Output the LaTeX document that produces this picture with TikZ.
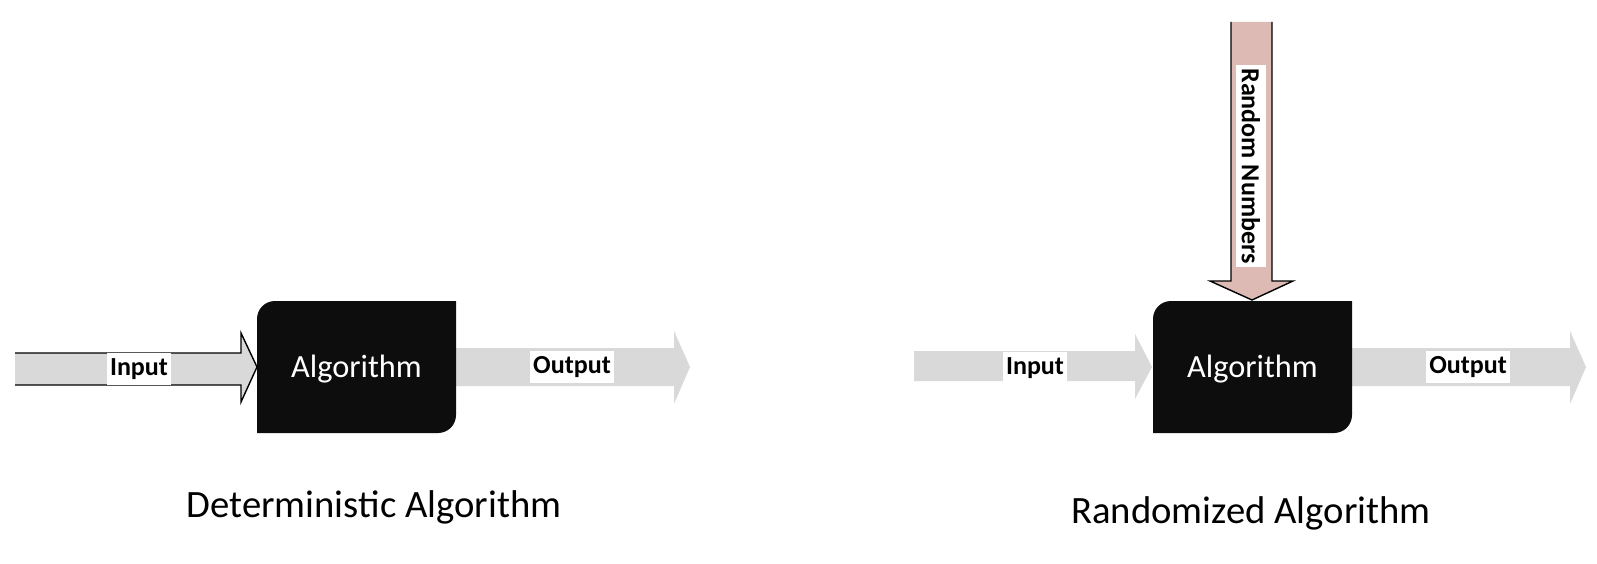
\documentclass[tikz,border=0pt]{standalone}
\usepackage{fontspec}
\setmainfont{Carlito}
\usepackage{xcolor}
\usepackage{tikz}
\usetikzlibrary{positioning}

\definecolor{arrowgray}{RGB}{217,217,217}
\definecolor{boxblack}{RGB}{13,13,13}
\definecolor{randpink}{RGB}{222,186,181}

\begin{document}
\begin{tikzpicture}[x=0.01cm, y=-0.01cm,
        lbl/.style={fill=white, inner xsep=1pt, inner ysep=1.6pt, font=\fontsize{7.4}{8}\selectfont\bfseries},
        algtext/.style={text=white, font=\fontsize{9.2}{11}\selectfont},
        caption/.style={font=\fontsize{11}{13}\selectfont}]
        \useasboundingbox (0,0) rectangle (1597,564);

        % Algorithm boxes with output arrows
        \foreach \x/\n in {257/L, 1153/R} {
                \fill[arrowgray] (\x+195,348) -- (\x+417,348) -- (\x+417,331) -- (\x+433,367)
                    -- (\x+417,404) -- (\x+417,386) -- (\x+195,386) -- cycle;
                \fill[boxblack] (\x,433) -- (\x,319) .. controls (\x,309) and (\x+8,301) .. (\x+18,301)
                    -- (\x+199,301) -- (\x+199,415) .. controls (\x+199,425) and (\x+191,433) .. (\x+181,433) -- cycle;
                \node[algtext, anchor=base] (alg\n) at (\x+99.5,377) {Algorithm};
                \node[lbl] (out\n) at (\x+315,367) {Output};
            }

        % Deterministic: outlined input arrow
        \fill[arrowgray] (15,353) -- (241,353) -- (241,333) -- (257,367) -- (241,402) -- (241,385) -- (15,385) -- cycle;
        \draw[line width=0.4pt] (15,353) -- (241,353) -- (241,333) -- (257,367) -- (241,402) -- (241,385) -- (15,385);
        \node[lbl] (inL) at (139,369) {Input};
        \node[caption, anchor=base] (capL) at (374,517) {Deterministic Algorithm};

        % Randomized: plain input arrow and random numbers from above
        \fill[arrowgray] (914,351) -- (1135,351) -- (1135,334) -- (1152,367) -- (1135,399) -- (1135,381) -- (914,381) -- cycle;
        \node[lbl] (inR) at (1035,368) {Input};
        \fill[randpink] (1231,22) -- (1272,22) -- (1272,281) -- (1293,281) -- (1252,300) -- (1210,281) -- (1231,281) -- cycle;
        \draw[line width=0.4pt] (1231,22) -- (1231,281) -- (1210,281) -- (1252,300) -- (1293,281) -- (1272,281) -- (1272,22);
        \node[lbl, rotate=-90] (rand) at (1251,166) {Random Numbers};
        \node[caption, anchor=base] (capR) at (1251,523) {Randomized Algorithm};
    \end{tikzpicture}
\end{document}
